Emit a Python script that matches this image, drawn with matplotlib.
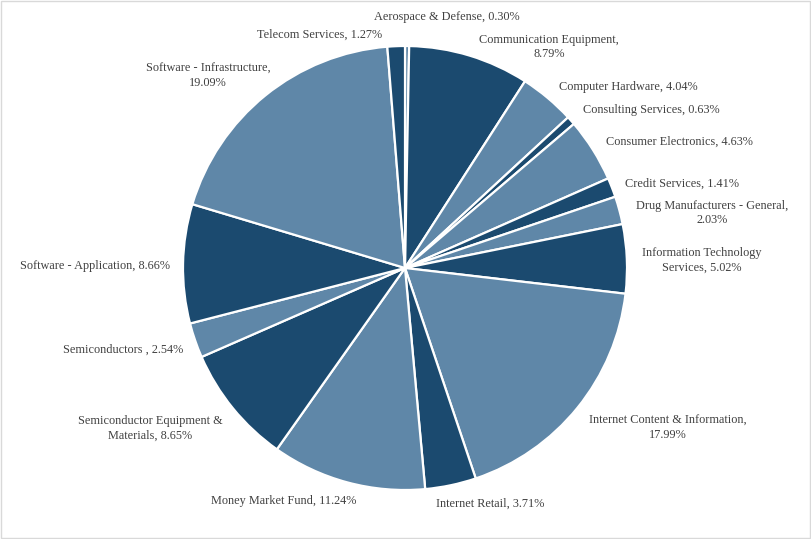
import matplotlib
matplotlib.use("Agg")
import matplotlib.pyplot as plt
from matplotlib.patches import Rectangle

# data
sectors = ["Aerospace & Defense", "Communication Equipment", "Computer Hardware",
           "Consulting Services", "Consumer Electronics", "Credit Services",
           "Drug Manufacturers - General", "Information Technology Services",
           "Internet Content & Information", "Internet Retail", "Money Market Fund",
           "Semiconductor Equipment & Materials", "Semiconductors ",
           "Software - Application", "Software - Infrastructure", "Telecom Services"]
weights = [0.30, 8.79, 4.04, 0.63, 4.63, 1.41, 2.03, 5.02,
           17.99, 3.71, 11.24, 8.65, 2.54, 8.66, 19.09, 1.27]
# where the label text wraps (Excel style)
label_text = ["Aerospace & Defense, 0.30%",
              "Communication Equipment,\n8.79%",
              "Computer Hardware, 4.04%",
              "Consulting Services, 0.63%",
              "Consumer Electronics, 4.63%",
              "Credit Services, 1.41%",
              "Drug Manufacturers - General,\n2.03%",
              "Information Technology\nServices, 5.02%",
              "Internet Content & Information,\n17.99%",
              "Internet Retail, 3.71%",
              "Money Market Fund, 11.24%",
              "Semiconductor Equipment &\nMaterials, 8.65%",
              "Semiconductors , 2.54%",
              "Software - Application, 8.66%",
              "Software - Infrastructure,\n19.09%",
              "Telecom Services, 1.27%"]

# label centres in pixels (x from left, y from top)
label_pos = [(447, 17), (549, 47), (628, 87), (651, 110), (679, 142), (682, 184),
             (712, 213), (702, 260), (668, 428), (490, 504), (284, 501), (150, 428),
             (123, 350), (95, 266), (208, 76), (320, 35)]

dark = "#1b4a6f"
light = "#5f87a8"
colors = [light if i % 2 == 0 else dark for i in range(len(weights))]

W, H = 812, 539
fig = plt.figure(figsize=(W / 100, H / 100), dpi=100)

cx, cy, r = 405, 268, 222
ax = fig.add_axes([(cx - r) / W, (H - cy - r) / H, 2 * r / W, 2 * r / H])
ax.pie(weights, colors=colors, startangle=90, counterclock=False,
       wedgeprops=dict(edgecolor="white", linewidth=1.6))
ax.set_xlim(-1, 1)
ax.set_ylim(-1, 1)
ax.axis("off")

for txt, (x, y) in zip(label_text, label_pos):
    fig.text(x / W, 1 - y / H, txt, ha="center", va="center", ma="center",
             family="Liberation Serif", fontsize=8.8, color="#404040",
             linespacing=1.3)

# outer frame
fig.patches.append(Rectangle((0.001, 0.001), 0.997, 0.997, transform=fig.transFigure,
                             fill=False, edgecolor="#d9d9d9", linewidth=1))

fig.savefig("out.png", dpi=100)
